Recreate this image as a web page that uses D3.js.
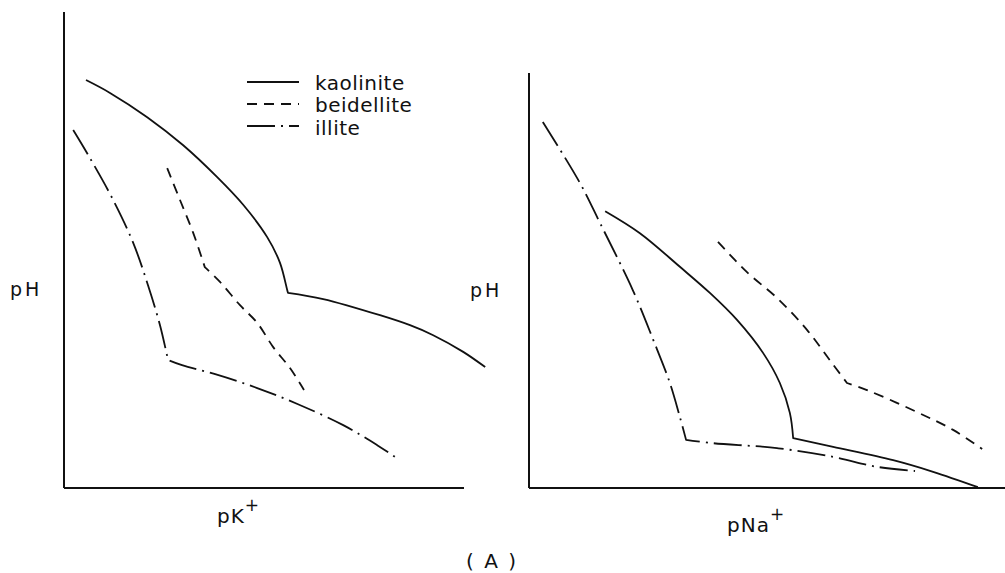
<!DOCTYPE html>
<html><head><meta charset="utf-8">
<script src="https://cdn.jsdelivr.net/npm/d3@7"></script>
<style>body{margin:0;background:#fff}svg{display:block}text{font-family:"DejaVu Sans",sans-serif;fill:#111}</style>
</head><body><svg id="c" width="1005" height="573"></svg>
<script>
// Series names
const seriesNames = ["kaolinite", "beidellite", "illite"];
// Left panel (pH vs pK+), arbitrary units 0-100
const leftKaolinite = [[5.5,85.7],[11.5,83.0],[20.8,77.9],[29.8,72.0],[38.3,65.3],[44.8,59.5],[50.8,52.7],[54,47.3],[55.8,41.6],[56,41.0],[64.8,39.7],[79,36.3],[86.5,34.2],[92.3,32.1],[99.8,28.6],[105.3,25.4]];
const leftBeidellite = [[25.8,67.2],[29,60.5],[32.3,53.6],[35.2,46.4],[39,43.3],[44,38.4],[48.3,34.7],[52.3,29.6],[56.5,25.2],[60,20.6]];
const leftIllite = [[2.3,75.2],[6.5,69.3],[12.3,60.5],[17.3,51.5],[21,42.6],[24,34.2],[26,26.9],[29.5,25.8],[37.8,23.9],[48.3,21.0],[58.5,17.6],[69.8,13.2],[78.3,9.0],[82.8,6.5]];
// Right panel (pH vs pNa+)
const rightKaolinite = [[16.0,66.7],[23.3,61.4],[31.7,53.3],[38.0,47.0],[43.7,40.5],[49.2,32.5],[52.7,25.3],[54.8,18.1],[55.5,12.0],[63.9,9.9],[76.5,6.7],[84.9,3.9],[94.3,0.2]];
const rightBeidellite = [[39.7,59.3],[45.8,52.0],[52.1,45.8],[58.4,38.1],[63.2,30.8],[66.8,25.3],[71.0,23.6],[81.5,18.3],[89.1,14.0],[95.2,9.4]];
const rightIllite = [[2.9,88.2],[10.7,73.5],[14.9,63.9],[21.8,47.7],[26.1,35.7],[29.6,25.3],[31.7,17.1],[33.0,11.6],[38.7,10.8],[52.1,9.6],[63.9,7.5],[73.1,5.1],[81.1,4.1]];
// index of the sharp break point in each series (left, right)
const leftBreaks = [9, 3, 6];
const rightBreaks = [8, 5, 7];
const axisDomain = [0, 100];

const svg = d3.select("#c");
const dashes = {kaolinite: null, beidellite: "10,7", illite: "28,6,2,6"};

function panel(xRange, yRange, data, breaks) {
  const x = d3.scaleLinear().domain(axisDomain).range(xRange);
  const y = d3.scaleLinear().domain(axisDomain).range(yRange);
  const g = svg.append("g");
  g.append("line").attr("x1", x(0)).attr("x2", x(0)).attr("y1", y(0)).attr("y2", y(100))
    .attr("stroke", "#111").attr("stroke-width", 2);
  g.append("line").attr("x1", x(0)).attr("x2", x(100)).attr("y1", y(0)).attr("y2", y(0))
    .attr("stroke", "#111").attr("stroke-width", 2);
  const line = d3.line().x(d => x(d[0])).y(d => y(d[1])).curve(d3.curveCatmullRom.alpha(0.5));
  data.forEach((pts, i) => {
    const b = breaks[i];
    const d = line(pts.slice(0, b + 1)) + line(pts.slice(b)).replace(/^M[^C L]*/, "");
    g.append("path").attr("d", d).attr("fill", "none")
      .attr("stroke", "#111").attr("stroke-width", 1.8)
      .attr("stroke-linejoin", "round")
      .attr("stroke-dasharray", dashes[seriesNames[i]]);
  });
}
panel([64, 464], [488, 12], [leftKaolinite, leftBeidellite, leftIllite], leftBreaks);
panel([529, 1005], [488, 73], [rightKaolinite, rightBeidellite, rightIllite], rightBreaks);

// legend
const legY = [82, 104, 126], legBase = [90, 112, 135];
seriesNames.forEach((n, i) => {
  svg.append("line").attr("x1", 247).attr("x2", 299).attr("y1", legY[i]).attr("y2", legY[i])
    .attr("stroke", "#111").attr("stroke-width", 1.8).attr("stroke-dasharray", dashes[n]);
  svg.append("text").attr("x", 315).attr("y", legBase[i]).attr("font-size", 20).attr("letter-spacing", 0.5).text(n);
});

// axis labels
svg.append("text").attr("x", 10).attr("y", 296).attr("font-size", 19).attr("letter-spacing", 3).text("pH");
svg.append("text").attr("x", 470).attr("y", 297).attr("font-size", 19).attr("letter-spacing", 3).text("pH");
const t1 = svg.append("text").attr("x", 217).attr("y", 523).attr("font-size", 20).attr("letter-spacing", 1);
t1.append("tspan").text("pK");
t1.append("tspan").attr("dy", -12).attr("font-size", 17).text("+");
const t2 = svg.append("text").attr("x", 727).attr("y", 532).attr("font-size", 20).attr("letter-spacing", 1);
t2.append("tspan").text("pNa");
t2.append("tspan").attr("dy", -12).attr("font-size", 17).text("+");
svg.append("text").attr("x", 466).attr("y", 568).attr("font-size", 20).attr("letter-spacing", 2).attr("xml:space", "preserve").text("( A )");
</script></body></html>
